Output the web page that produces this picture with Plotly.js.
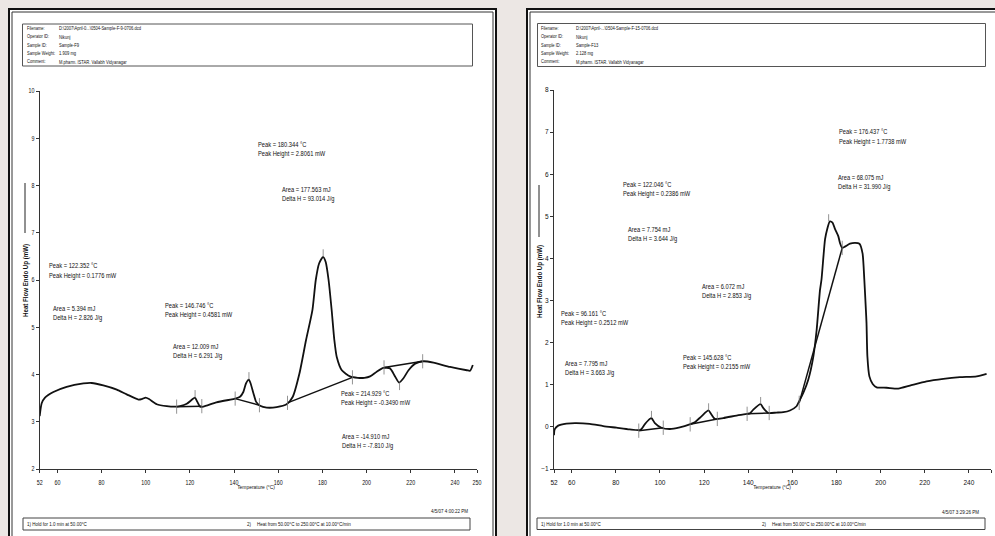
<!DOCTYPE html>
<html>
<head>
<meta charset="utf-8">
<script src="https://cdn.plot.ly/plotly-3.0.1.min.js"></script>
<style>html,body{margin:0;padding:0;background:#ece7e4;}#chart{width:995px;height:536px;}</style>
</head>
<body>
<div id="chart"></div>
<script>
// ---------------- DATA ----------------
// Sample F9 (left thermogram): temperature (°C) and heat flow (mW)
const leftTemp = [52, 52.9, 54.4, 58.2, 64.2, 71.8, 75.5, 80.8, 86.9, 91.4, 96.7, 98.2, 100, 101.5, 105, 109.5, 114, 115.5, 118.6, 121, 122.3, 123.4, 124.6, 126.1, 132, 139.7, 140.5, 142.7, 144.2, 145.4, 146.7, 147.5, 148.8, 150, 151.8, 154.8, 159.3, 163.8, 166.6, 169.6, 172.6, 175.5, 177, 178.5, 180.3, 181.5, 182.8, 184.2, 185.4, 186.5, 188.8, 192.5, 196, 199, 201.6, 204.6, 207.6, 210.6, 212.9, 214.7, 216.7, 219, 222, 225.8, 230.3, 237.8, 245.4, 246.9, 248.1];
const leftHF   = [3.12, 3.39, 3.51, 3.63, 3.74, 3.81, 3.82, 3.77, 3.68, 3.58, 3.47, 3.48, 3.51, 3.48, 3.37, 3.33, 3.32, 3.33, 3.38, 3.47, 3.51, 3.42, 3.32, 3.32, 3.41, 3.48, 3.49, 3.53, 3.63, 3.81, 3.89, 3.81, 3.60, 3.42, 3.34, 3.30, 3.31, 3.37, 3.53, 4.02, 4.73, 5.37, 6.00, 6.35, 6.49, 6.38, 6.00, 5.36, 4.73, 4.37, 4.09, 3.96, 3.93, 3.93, 3.96, 4.06, 4.14, 4.13, 3.96, 3.83, 3.92, 4.09, 4.23, 4.28, 4.25, 4.16, 4.09, 4.08, 4.20];
// integration baselines (start T, start HF, end T, end HF)
const leftBaseT0 = [114, 140.5, 164.2, 207.9];
const leftBaseV0 = [3.32, 3.49, 3.40, 4.15];
const leftBaseT1 = [125.4, 151.5, 193.6, 225.4];
const leftBaseV1 = [3.33, 3.35, 3.94, 4.28];
// peak positions (T, HF) and direction (+1 endo up, -1 down)
const leftPeakT = [122.352, 146.746, 180.344, 214.929];
const leftPeakV = [3.51, 3.89, 6.49, 3.83];
const leftPeakDir = [1, 1, 1, -1];
const leftLabels = [
  ['Peak = 180.344 °C', 'Peak Height = 2.8061 mW'],
  ['Area = 177.563 mJ', 'Delta H = 93.014 J/g'],
  ['Peak = 122.352 °C', 'Peak Height = 0.1776 mW'],
  ['Area = 5.394 mJ', 'Delta H = 2.826 J/g'],
  ['Peak = 146.746 °C', 'Peak Height = 0.4581 mW'],
  ['Area = 12.009 mJ', 'Delta H = 6.291 J/g'],
  ['Peak = 214.929 °C', 'Peak Height = -0.3490 mW'],
  ['Area = -14.910 mJ', 'Delta H = -7.810 J/g']
];
const leftHeader = ['D:\\2007\\April-0...\\0504-Sample-F-9-0706.dcd', 'Nikunj', 'Sample-F9', '1.909 mg', 'M.pharm. ISTAR. Vallabh Vidyanagar'];
const leftStamp = '4/5/07 4:00:22 PM';

// Sample F13 (right thermogram)
const rightTemp = [52, 52.3, 53.9, 57.6, 62.2, 68.2, 74.3, 80.3, 86.3, 91.2, 93.1, 95.4, 96.2, 97.7, 100.7, 104.5, 109, 113.5, 115.8, 118.8, 122, 123.4, 124.9, 128.7, 134.7, 139.5, 140.8, 142.3, 145.6, 146.8, 149.1, 152.8, 155.9, 158.9, 161.9, 163.1, 164.9, 167.2, 169.5, 171, 172.5, 173.2, 174.8, 175.8, 177, 178.2, 179.3, 180.8, 181.6, 182.6, 183.8, 186.1, 188.4, 190.4, 191.8, 192.6, 193.3, 193.6, 194, 194.9, 196.4, 198.2, 202.7, 208, 213.3, 220.8, 228.4, 235.9, 243.5, 248];
const rightHF   = [-0.20, -0.06, 0.03, 0.08, 0.09, 0.07, 0.02, -0.02, -0.06, -0.07, 0.06, 0.19, 0.21, 0.09, -0.02, -0.05, -0.01, 0.06, 0.11, 0.25, 0.39, 0.29, 0.19, 0.21, 0.27, 0.31, 0.32, 0.41, 0.54, 0.45, 0.33, 0.34, 0.35, 0.39, 0.49, 0.61, 0.80, 1.12, 1.67, 2.30, 3.24, 3.50, 4.45, 4.70, 4.88, 4.85, 4.70, 4.53, 4.36, 4.25, 4.28, 4.35, 4.37, 4.35, 4.12, 3.50, 2.79, 2.46, 1.67, 1.20, 1.02, 0.94, 0.93, 0.91, 0.98, 1.08, 1.14, 1.18, 1.20, 1.26];
const rightBaseT0 = [90.4, 113.7, 139.5, 163.1];
const rightBaseV0 = [-0.09, 0.06, 0.31, 0.57];
const rightBaseT1 = [101.5, 126.0, 149.5, 182.6];
const rightBaseV1 = [-0.02, 0.19, 0.33, 4.25];
const rightPeakT = [96.161, 122.046, 145.628, 176.437];
const rightPeakV = [0.21, 0.39, 0.54, 4.88];
const rightPeakDir = [1, 1, 1, 1];
const rightLabels = [
  ['Peak = 176.437 °C', 'Peak Height = 1.7738 mW'],
  ['Area = 68.075 mJ', 'Delta H = 31.990 J/g'],
  ['Peak = 122.046 °C', 'Peak Height = 0.2386 mW'],
  ['Area = 7.754 mJ', 'Delta H = 3.644 J/g'],
  ['Area = 6.072 mJ', 'Delta H = 2.853 J/g'],
  ['Peak = 96.161 °C', 'Peak Height = 0.2512 mW'],
  ['Area = 7.795 mJ', 'Delta H = 3.663 J/g'],
  ['Peak = 145.628 °C', 'Peak Height = 0.2155 mW']
];
const rightHeader = ['D:\\2007\\April-...\\0504-Sample-F-15-0706.dcd', 'Nikunj', 'Sample-F13', '2.128 mg', 'M.pharm. ISTAR. Vallabh Vidyanagar'];
const rightStamp = '4/5/07 3:29:26 PM';

const headerKeys = ['Filename:', 'Operator ID:', 'Sample ID:', 'Sample Weight:', 'Comment:'];
const xTicks = [52, 60, 80, 100, 120, 140, 160, 180, 200, 220, 240, 250];
const leftYTicks = [2, 3, 4, 5, 6, 7, 8, 9, 10];
const rightYTicks = [-1, 0, 1, 2, 3, 4, 5, 6, 7, 8];
const stepText1 = '1) Hold for 1.0 min at 50.00°C';
const stepText2 = 'Heat from 50.00°C to 250.00°C at 10.00°C/min';
const xTitle = 'Temperature (°C)';
const yTitle = 'Heat Flow Endo Up (mW)';

// ---------------- LAYOUT HELPERS ----------------
const W = 995, H = 536;
const px = x => x / W;
const py = y => 1 - y / H;
const FONT = "'Liberation Sans Narrow', 'Arial Narrow', 'Liberation Sans', Arial, sans-serif";
const INK = '#111';
const SQUEEZE = 0.82; // emulate the narrow instrument font

function baselineTrace(t0, v0, t1, v1, xa, ya) {
  const xs = [], ys = [];
  for (let i = 0; i < t0.length; i++) { xs.push(t0[i], t1[i], null); ys.push(v0[i], v1[i], null); }
  return {x: xs, y: ys, xaxis: xa, yaxis: ya, mode: 'lines', line: {color: INK, width: 1.5}, hoverinfo: 'skip', showlegend: false};
}
function tickTrace(t0, v0, t1, v1, pt, pv, pdir, half, plen, xa, ya) {
  const xs = [], ys = [];
  for (let i = 0; i < t0.length; i++) {
    xs.push(t0[i], t0[i], null, t1[i], t1[i], null);
    ys.push(v0[i] - half, v0[i] + half, null, v1[i] - half, v1[i] + half, null);
    xs.push(pt[i], pt[i], null);
    ys.push(pv[i], pv[i] + pdir[i] * plen, null);
  }
  return {x: xs, y: ys, xaxis: xa, yaxis: ya, mode: 'lines', line: {color: '#777', width: 0.8}, hoverinfo: 'skip', showlegend: false};
}

const traces = [
  {x: leftTemp, y: leftHF, xaxis: 'x', yaxis: 'y', mode: 'lines', line: {color: INK, width: 1.8, shape: 'spline', smoothing: 0.6}, showlegend: false},
  baselineTrace(leftBaseT0, leftBaseV0, leftBaseT1, leftBaseV1, 'x', 'y'),
  tickTrace(leftBaseT0, leftBaseV0, leftBaseT1, leftBaseV1, leftPeakT, leftPeakV, leftPeakDir, 0.15, 0.16, 'x', 'y'),
  {x: rightTemp, y: rightHF, xaxis: 'x2', yaxis: 'y2', mode: 'lines', line: {color: INK, width: 1.8, shape: 'spline', smoothing: 0.6}, showlegend: false},
  baselineTrace(rightBaseT0, rightBaseV0, rightBaseT1, rightBaseV1, 'x2', 'y2'),
  tickTrace(rightBaseT0, rightBaseV0, rightBaseT1, rightBaseV1, rightPeakT, rightPeakV, rightPeakDir, 0.17, 0.17, 'x2', 'y2')
];

// ---------------- ANNOTATIONS ----------------
const ann = [];
function txt(x, y, text, opts) {
  opts = opts || {};
  const xa = opts.xa || 'left';
  ann.push({xref: 'paper', yref: 'paper', x: px(x), y: py(y), text: text, showarrow: false,
    xanchor: xa, align: xa, yanchor: 'middle', textangle: opts.angle || 0,
    font: {family: FONT, size: opts.size || 7, color: opts.color || INK}});
}
// label positions (pixel, first line centre)
const leftLabelPos = [[256, 144], [280, 189], [47, 266], [51, 308], [163, 305], [171, 346], [339, 393], [340, 436]];
const rightLabelPos = [[837, 132], [836, 177], [621, 184], [626, 229], [700, 286], [559, 313], [563, 363], [681, 357]];
const LINE_GAP = 10.3;
leftLabels.forEach((l, i) => { txt(leftLabelPos[i][0], leftLabelPos[i][1], l[0]); txt(leftLabelPos[i][0], leftLabelPos[i][1] + LINE_GAP, l[1]); });
rightLabels.forEach((l, i) => { txt(rightLabelPos[i][0], rightLabelPos[i][1], l[0]); txt(rightLabelPos[i][0], rightLabelPos[i][1] + LINE_GAP, l[1]); });

// headers
const headerRows = [28.3, 36.7, 45, 53.3, 61.7];
headerKeys.forEach((k, i) => {
  txt(24.5, headerRows[i], k, {size: 4.9});
  txt(57, headerRows[i], leftHeader[i], {size: 5});
  txt(538.5, headerRows[i], k, {size: 4.9});
  txt(574, headerRows[i], rightHeader[i], {size: 5});
});
// footers
txt(25, 524, stepText1, {size: 5.5});
txt(245, 524, '2)', {size: 5.5});
txt(255, 524, stepText2, {size: 5.5});
txt(470, 511, leftStamp, {size: 5.5, xa: 'right'});
txt(539, 524, stepText1, {size: 5.5});
txt(760, 524, '2)', {size: 5.5});
txt(770, 524, stepText2, {size: 5.5});
txt(981, 512, rightStamp, {size: 5.5, xa: 'right'});
// axis titles
txt(256, 487, xTitle, {size: 6, xa: 'center'});
txt(772, 487, xTitle, {size: 6, xa: 'center'});
ann.push({xref: 'paper', yref: 'paper', x: px(25), y: py(280), text: '<b>' + yTitle + '</b>', showarrow: false, textangle: -90,
  xanchor: 'center', yanchor: 'middle', font: {family: FONT, size: 7.5, color: INK}});
ann.push({xref: 'paper', yref: 'paper', x: px(539), y: py(281), text: '<b>' + yTitle + '</b>', showarrow: false, textangle: -90,
  xanchor: 'center', yanchor: 'middle', font: {family: FONT, size: 7.5, color: INK}});

// ---------------- SHAPES ----------------
function rect(x0, y0, x1, y1, line, fill, layer) {
  return {type: 'rect', xref: 'paper', yref: 'paper', x0: px(x0), y0: py(y0), x1: px(x1), y1: py(y1),
    line: line, fillcolor: fill || 'rgba(0,0,0,0)', layer: layer || 'below'};
}
function vline(x, y0, y1, w, c) {
  return {type: 'line', xref: 'paper', yref: 'paper', x0: px(x), x1: px(x), y0: py(y0), y1: py(y1), line: {color: c, width: w}, layer: 'below'};
}
const shapes = [
  rect(8, 8, 497, 560, {width: 0}, '#ffffff'),
  rect(526, 8, 1010, 560, {width: 0}, '#ffffff'),
  rect(9, 9, 496, 560, {color: '#111', width: 2}),
  rect(12, 12, 493, 560, {color: '#333', width: 1}),
  rect(527, 9, 1010, 560, {color: '#111', width: 2}),
  rect(530, 12, 1010, 560, {color: '#333', width: 1}),
  rect(22.5, 24, 472.5, 66, {color: '#555', width: 1}),
  rect(537.5, 23.5, 985.5, 66.5, {color: '#555', width: 1}),
  rect(23, 518, 470, 530, {color: '#444', width: 1}),
  rect(537, 518, 985, 529.5, {color: '#444', width: 1}),
  vline(25, 183, 233, 1, '#222'),
  vline(539, 185, 237, 1, '#222')
];

// ---------------- AXES ----------------
const axisCommon = {showgrid: false, zeroline: false, showline: true, linecolor: '#333', linewidth: 1,
  ticks: 'outside', ticklen: 3, tickwidth: 1, tickcolor: '#333', tickfont: {family: FONT, size: 6.5, color: INK}};
const layout = {
  width: W, height: H, margin: {l: 0, r: 0, t: 0, b: 0},
  paper_bgcolor: '#ece7e4', plot_bgcolor: 'rgba(0,0,0,0)', showlegend: false,
  xaxis: Object.assign({}, axisCommon, {domain: [px(39.7), px(477)], range: [52, 250], tickvals: xTicks, anchor: 'y', ticklabelstandoff: 4}),
  yaxis: Object.assign({}, axisCommon, {domain: [py(469), py(91)], range: [2, 10], tickvals: leftYTicks, anchor: 'x'}),
  xaxis2: Object.assign({}, axisCommon, {domain: [px(554), px(991)], range: [52, 250], tickvals: xTicks, anchor: 'y2', ticklabelstandoff: 4}),
  yaxis2: Object.assign({}, axisCommon, {domain: [py(469), py(90)], range: [-1, 8], tickvals: rightYTicks, anchor: 'x2'}),
  annotations: ann,
  shapes: shapes
};
Plotly.newPlot('chart', traces, layout, {staticPlot: true, displayModeBar: false}).then(gd => {
  // condense all text horizontally to mimic the narrow font of the instrument printout
  gd.querySelectorAll('text.annotation-text, .xtick text, .ytick text').forEach(el => {
    const w = el.getComputedTextLength();
    if (w > 0) {
      el.setAttribute('textLength', (w * SQUEEZE).toFixed(2));
      el.setAttribute('lengthAdjust', 'spacingAndGlyphs');
    }
  });
});
</script>
</body>
</html>
